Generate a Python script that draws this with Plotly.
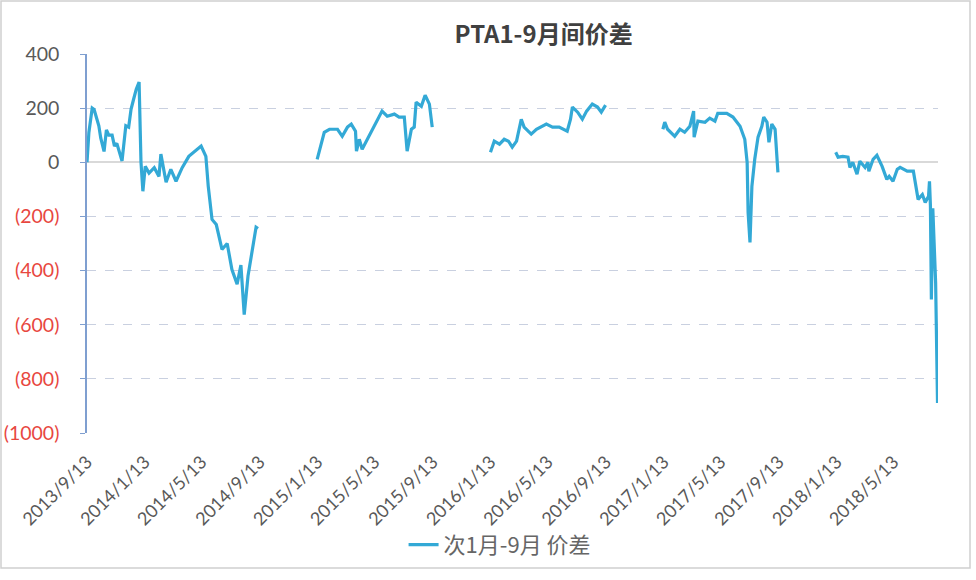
import plotly.graph_objects as go

# ---- data ----
seg1_dates = ["2013-09-13","2013-09-17","2013-09-24","2013-09-28","2013-10-08","2013-10-12","2013-10-19","2013-10-24","2013-10-29",
              "2013-11-05","2013-11-10","2013-11-15","2013-11-26","2013-12-04","2013-12-10","2013-12-15","2013-12-20","2013-12-26","2014-01-01","2014-01-05",
              "2014-01-09","2014-01-14","2014-01-22","2014-02-02","2014-02-12","2014-02-16","2014-02-27","2014-03-09",
              "2014-03-20","2014-04-02","2014-04-16","2014-04-29","2014-05-12","2014-05-22","2014-05-27","2014-06-04",
              "2014-06-13","2014-06-25","2014-07-06","2014-07-16","2014-07-27","2014-08-04","2014-08-11","2014-08-19",
              "2014-08-28","2014-09-05","2014-09-09"]
seg1_vals = [0, 110, 200, 195, 135, 90, 40, 120, 100,
             100, 60, 70, 5, 135, 130, 196, 230, 270, 296, 0,
             -107, -15, -40, -20, -52, 30, -74, -26,
             -70, -20, 22, 40, 60, 22, -88, -211,
             -230, -322, -300, -396, -450, -380, -563, -420,
             -322, -240, -245]

seg2_dates = ["2015-01-12","2015-01-27","2015-02-07","2015-02-24","2015-03-06","2015-03-17","2015-03-25","2015-04-03",
              "2015-04-05","2015-04-11","2015-04-17","2015-04-26","2015-05-08","2015-05-29","2015-06-09","2015-06-24",
              "2015-07-04","2015-07-15","2015-07-21","2015-07-30","2015-08-05","2015-08-09","2015-08-20","2015-08-28",
              "2015-09-06","2015-09-12"]
seg2_vals = [11, 111, 122, 122, 96, 130, 141, 115,
             41, 85, 48, 78, 115, 189, 170, 178,
             167, 167, 41, 122, 130, 222, 207, 248,
             215, 130]

seg3_dates = ["2016-01-13","2016-01-21","2016-02-01","2016-02-11","2016-02-20","2016-02-28","2016-03-08","2016-03-18",
              "2016-03-24","2016-04-08","2016-04-19","2016-05-10","2016-05-23","2016-06-06","2016-06-23","2016-06-30",
              "2016-07-04","2016-07-15","2016-07-25","2016-08-03","2016-08-15","2016-08-26","2016-09-03","2016-09-12"]
seg3_vals = [37, 78, 67, 85, 78, 56, 78, 159,
             130, 104, 122, 141, 130, 130, 115, 159,
             204, 185, 159, 189, 215, 204, 185, 211]

seg4_dates = ["2017-01-11","2017-01-15","2017-01-21","2017-02-05","2017-02-16","2017-02-26","2017-03-09","2017-03-17",
              "2017-03-18","2017-03-26","2017-04-10","2017-04-20","2017-05-01","2017-05-07","2017-05-26","2017-06-08",
              "2017-06-23","2017-07-03","2017-07-08","2017-07-10","2017-07-14","2017-07-18","2017-07-24","2017-07-31",
              "2017-08-08","2017-08-12","2017-08-19","2017-08-23","2017-08-29","2017-09-05","2017-09-11"]
seg4_vals = [122, 148, 122, 96, 122, 111, 133, 189,
             93, 152, 148, 163, 152, 181, 181, 167,
             133, 85, 0, -185, -296, -89, 11, 93,
             133, 167, 148, 74, 141, 122, -37]

seg5_dates = ["2018-01-11","2018-01-16","2018-01-26","2018-02-06","2018-02-10","2018-02-16","2018-02-25","2018-03-03",
              "2018-03-14","2018-03-20","2018-03-22","2018-03-31","2018-04-08","2018-04-19","2018-04-29","2018-05-04",
              "2018-05-12","2018-05-21","2018-05-27","2018-06-11","2018-06-24","2018-06-30","2018-07-04","2018-07-13",
              "2018-07-19","2018-07-26","2018-07-28","2018-07-30","2018-08-01","2018-08-04","2018-08-10","2018-08-14"]
seg5_vals = [37, 19, 22, 19, -19, 0, -44, 4,
             -19, 0, -33, 11, 26, -15, -63, -52,
             -70, -26, -19, -33, -33, -100, -137, -119,
             -148, -126, -70, -160, -507, -170, -444, -889]

tick_dates = ["2013-09-13","2014-01-13","2014-05-13","2014-09-13","2015-01-13","2015-05-13","2015-09-13","2016-01-13",
              "2016-05-13","2016-09-13","2017-01-13","2017-05-13","2017-09-13","2018-01-13","2018-05-13"]
tick_labels = ["2013/9/13","2014/1/13","2014/5/13","2014/9/13","2015/1/13","2015/5/13","2015/9/13","2016/1/13",
               "2016/5/13","2016/9/13","2017/1/13","2017/5/13","2017/9/13","2018/1/13","2018/5/13"]
y_ticks = [400, 200, 0, -200, -400, -600, -800, -1000]
y_labels = ["400", "200", "0", "(200)", "(400)", "(600)", "(800)", "(1000)"]

series_name = "次1月-9月 价差"
title_text = "PTA1-9月间价差"

# ---- build ----
dates, vals = [], []
for d, v in [(seg1_dates, seg1_vals), (seg2_dates, seg2_vals), (seg3_dates, seg3_vals),
             (seg4_dates, seg4_vals), (seg5_dates, seg5_vals)]:
    dates += d + [None]
    vals += v + [None]

ytext = [('<span style="color:#e8473f">%s</span>' % t) if v < 0 else t for v, t in zip(y_ticks, y_labels)]

fig = go.Figure()
fig.add_trace(go.Scatter(x=dates, y=vals, mode="lines", name=series_name,
                         line=dict(color="#33a9d6", width=3.2), connectgaps=False))

font_main = "Lato, 'Noto Sans CJK SC', sans-serif"
fig.update_layout(
    width=976, height=580,
    margin=dict(l=87, r=38, t=54, b=147),
    paper_bgcolor="white", plot_bgcolor="white",
    font=dict(family=font_main, color="#595959"),
    title=dict(text="<b>" + title_text + "</b>", x=0.557, xanchor="center", y=0.94, yanchor="middle",
               font=dict(size=24, color="#404040", family="'Noto Sans CJK SC', sans-serif")),
    showlegend=True,
    legend=dict(orientation="h", x=0.372, xanchor="left", y=-0.295, yanchor="middle",
                font=dict(size=22, color="#666666", family="'Noto Sans CJK SC', sans-serif"),
                bgcolor="rgba(0,0,0,0)"),
    xaxis=dict(type="date", range=["2013-09-13", "2018-08-15"], automargin=False,
               tickmode="array", tickvals=tick_dates, ticktext=tick_labels,
               tickangle=-45, tickfont=dict(size=18, color="#595959", family=font_main),
               showgrid=False, zeroline=False, showline=False, ticks="", ticklabelstandoff=14),
    yaxis=dict(range=[-1000, 400], tickmode="array", tickvals=y_ticks, ticktext=ytext, automargin=False,
               tickfont=dict(size=19.5, color="#595959", family=font_main),
               showgrid=True, gridcolor="#c9d0e0", griddash="dash", gridwidth=1,
               zeroline=True, zerolinecolor="#d9d9d9", zerolinewidth=1.5,
               showline=True, linecolor="#7f9fd0", linewidth=1.5,
               ticks="outside", ticklen=5, tickcolor="#7f9fd0", ticklabelstandoff=17),
    shapes=[dict(type="rect", xref="paper", yref="paper",
                 x0=(1 - 87) / 851, x1=(970 - 87) / 851, y0=(433 - 568) / 379, y1=(433 - 1) / 379,
                 line=dict(color="#d0d0d0", width=1.5), fillcolor="rgba(0,0,0,0)", layer="below")],
)

fig.write_html("out.html")
